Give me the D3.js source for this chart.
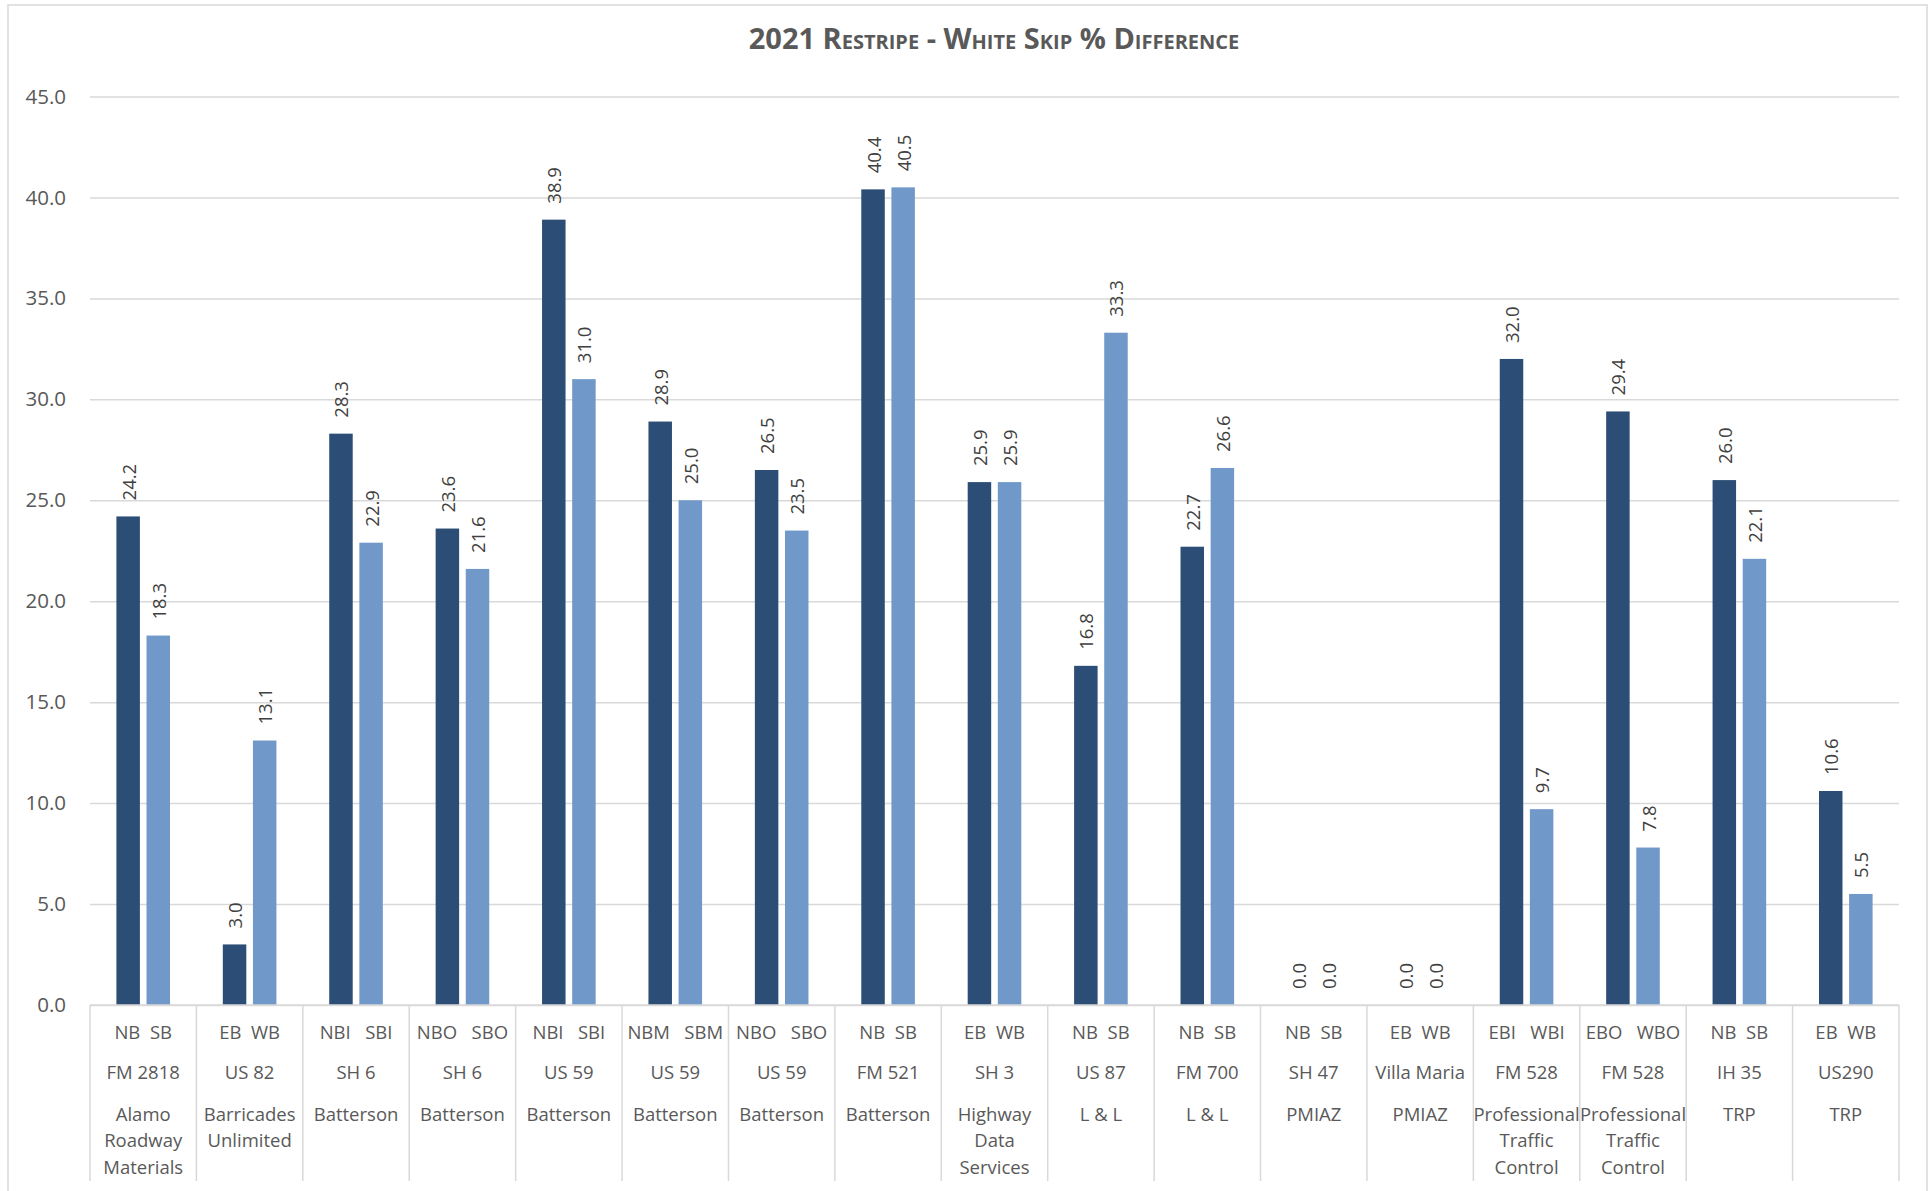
<!DOCTYPE html>
<html>
<head>
<meta charset="utf-8">
<script src="https://cdn.jsdelivr.net/npm/d3@7"></script>
<style>
  html, body { margin: 0; padding: 0; background: #ffffff; }
  svg { display: block; }
  text { font-family: "Open Sans", "Noto Sans", sans-serif; }
</style>
</head>
<body>
<svg id="chart" width="1929" height="1191"></svg>
<script>
// Road segments, one cluster each (direction pair / road / contractor)
const directions = ["NB  SB", "EB  WB", "NBI   SBI", "NBO   SBO", "NBI   SBI", "NBM   SBM",
  "NBO   SBO", "NB  SB", "EB  WB", "NB  SB", "NB  SB", "NB  SB", "EB  WB",
  "EBI   WBI", "EBO   WBO", "NB  SB", "EB  WB"];
const roads = ["FM 2818", "US 82", "SH 6", "SH 6", "US 59", "US 59", "US 59", "FM 521", "SH 3",
  "US 87", "FM 700", "SH 47", "Villa Maria", "FM 528", "FM 528", "IH 35", "US290"];
const contractors = [
  ["Alamo", "Roadway", "Materials"], ["Barricades", "Unlimited"], ["Batterson"], ["Batterson"],
  ["Batterson"], ["Batterson"], ["Batterson"], ["Batterson"], ["Highway", "Data", "Services"],
  ["L & L"], ["L & L"], ["PMIAZ"], ["PMIAZ"], ["Professional", "Traffic", "Control"],
  ["Professional", "Traffic", "Control"], ["TRP"], ["TRP"]];

// White skip % difference: first direction, second direction
const firstDir  = [24.2, 3.0, 28.3, 23.6, 38.9, 28.9, 26.5, 40.4, 25.9, 16.8, 22.7, 0.0, 0.0, 32.0, 29.4, 26.0, 10.6];
const secondDir = [18.3, 13.1, 22.9, 21.6, 31.0, 25.0, 23.5, 40.5, 25.9, 33.3, 26.6, 0.0, 0.0, 9.7, 7.8, 22.1, 5.5];

const yTicks = [0, 5, 10, 15, 20, 25, 30, 35, 40, 45];
const seriesKeys = ["first", "second"];
const seriesColors = ["#2C4D75", "#7099CA"];

const svg = d3.select("#chart");
const plot = { left: 90, right: 1899, top: 96.5, bottom: 1005 };

// chart area frame
svg.append("rect")
  .attr("x", 8).attr("y", 5).attr("width", 1919).attr("height", 1200)
  .attr("fill", "#ffffff").attr("stroke", "#D9D9D9").attr("stroke-width", 1.5);

// title
svg.append("text")
  .attr("x", 994).attr("y", 37)
  .attr("text-anchor", "middle").attr("dominant-baseline", "central")
  .style("font-variant", "small-caps").style("font-weight", "700")
  .style("font-size", "29px").attr("fill", "#595959")
  .text("2021 Restripe - White Skip % Difference");

const idx = d3.range(roads.length);
const x = d3.scaleBand().domain(idx).range([plot.left, plot.right]).paddingInner(0).paddingOuter(0);
const cw = x.bandwidth();
const xs = d3.scaleBand().domain(seriesKeys).range([26.4, cw - 26.4]).paddingInner(0.22).paddingOuter(0);
const y = d3.scaleLinear().domain([0, 45]).range([plot.bottom, plot.top]);

// gridlines + y labels
const yAxis = d3.axisLeft(y).tickValues(yTicks).tickFormat(d3.format(".1f"))
  .tickSize(-(plot.right - plot.left)).tickPadding(24);
const gy = svg.append("g").attr("transform", `translate(${plot.left},0)`).call(yAxis);
gy.select(".domain").remove();
gy.selectAll(".tick line").attr("stroke", "#D9D9D9").attr("stroke-width", 1.5);
gy.selectAll(".tick text").attr("fill", "#595959").style("font-size", "20.5px")
  .style("font-family", "'Open Sans', sans-serif");

// bars
const rows = idx.map(i => ({ i, vals: [firstDir[i], secondDir[i]] }));
const groups = svg.append("g").selectAll("g").data(rows).join("g")
  .attr("transform", d => `translate(${x(d.i)},0)`);
groups.selectAll("rect").data(d => d.vals.map((v, k) => ({ key: seriesKeys[k], v, k })))
  .join("rect")
  .attr("x", d => xs(d.key)).attr("width", xs.bandwidth())
  .attr("y", d => y(d.v)).attr("height", d => y(0) - y(d.v))
  .attr("fill", d => seriesColors[d.k]);

// value labels, rotated
groups.selectAll("text.val").data(d => d.vals.map((v, k) => ({ key: seriesKeys[k], v, k })))
  .join("text").attr("class", "val")
  .attr("transform", d => `translate(${xs(d.key) + xs.bandwidth() / 2},${y(d.v) - 16}) rotate(-90)`)
  .attr("dominant-baseline", "central")
  .attr("fill", "#404040").style("font-size", "18.5px")
  .text(d => d3.format(".1f")(d.v));

// category axis: baseline and separators
const axisG = svg.append("g");
axisG.append("line")
  .attr("x1", plot.left).attr("x2", plot.right).attr("y1", y(0)).attr("y2", y(0))
  .attr("stroke", "#D9D9D9").attr("stroke-width", 1.5);
const seps = idx.map(i => x(i)).concat([plot.right]);
axisG.selectAll("line.sep").data(seps).join("line").attr("class", "sep")
  .attr("x1", d => d).attr("x2", d => d).attr("y1", y(0)).attr("y2", 1181)
  .attr("stroke", "#D9D9D9").attr("stroke-width", 1.5);

const lab = axisG.selectAll("g.lab").data(idx).join("g").attr("class", "lab")
  .attr("transform", i => `translate(${x(i) + cw / 2},0)`);
lab.append("text").attr("y", 1031).attr("text-anchor", "middle").attr("dominant-baseline", "central")
  .style("white-space", "pre").attr("xml:space", "preserve")
  .attr("fill", "#595959").style("font-size", "18.5px").text(i => directions[i]);
lab.append("text").attr("y", 1071.5).attr("text-anchor", "middle").attr("dominant-baseline", "central")
  .attr("fill", "#595959").style("font-size", "18.5px").text(i => roads[i]);
lab.selectAll("text.co").data(i => contractors[i]).join("text").attr("class", "co")
  .attr("y", (d, j) => 1113.5 + j * 26.3).attr("text-anchor", "middle").attr("dominant-baseline", "central")
  .attr("fill", "#595959").style("font-size", "18.5px").text(d => d);
</script>
</body>
</html>
